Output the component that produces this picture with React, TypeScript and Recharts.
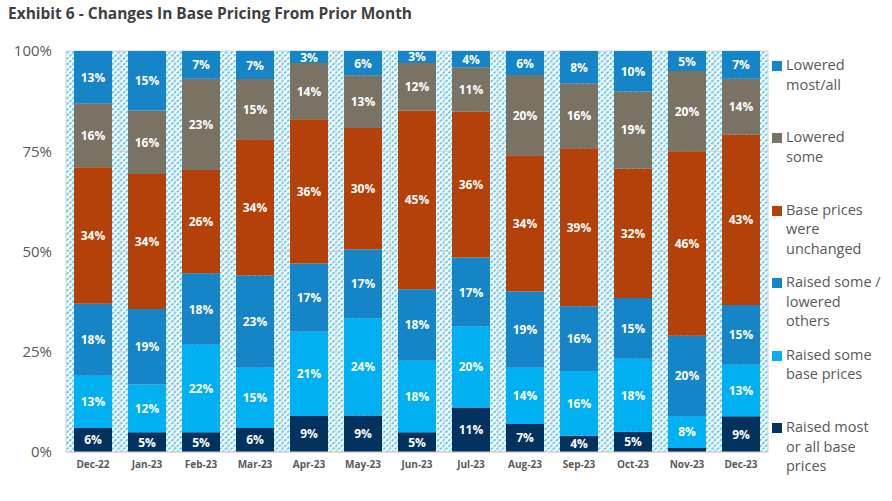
import React from "react";
import {
  BarChart,
  Bar,
  XAxis,
  YAxis,
  CartesianGrid,
  LabelList,
} from "recharts";

const categories = [
  "Dec-22", "Jan-23", "Feb-23", "Mar-23", "Apr-23", "May-23", "Jun-23",
  "Jul-23", "Aug-23", "Sep-23", "Oct-23", "Nov-23", "Dec-23",
];

// bottom to top
const raisedMost = [6, 5, 5, 6, 9, 9, 5, 11, 7, 4, 5, 1, 9];
const raisedSome = [13, 12, 22, 15, 21, 24, 18, 20, 14, 16, 18, 8, 13];
const raisedLowered = [18, 19, 18, 23, 17, 17, 18, 17, 19, 16, 15, 20, 15];
const unchanged = [34, 34, 26, 34, 36, 30, 45, 36, 34, 39, 32, 46, 43];
const loweredSome = [16, 16, 23, 15, 14, 13, 12, 11, 20, 16, 19, 20, 14];
const loweredMost = [13, 15, 7, 7, 3, 6, 3, 4, 6, 8, 10, 5, 7];

const yTicks = [0, 0.25, 0.5, 0.75, 1];

interface Series {
  key: string;
  values: number[];
  color: string;
  legend: string[];
}

const series: Series[] = [
  { key: "raisedMost", values: raisedMost, color: "#04325F", legend: ["Raised most", "or all base", "prices"] },
  { key: "raisedSome", values: raisedSome, color: "#00B0F0", legend: ["Raised some", "base prices"] },
  { key: "raisedLowered", values: raisedLowered, color: "#1585C7", legend: ["Raised some /", "lowered", "others"] },
  { key: "unchanged", values: unchanged, color: "#B5410A", legend: ["Base prices", "were", "unchanged"] },
  { key: "loweredSome", values: loweredSome, color: "#7A7263", legend: ["Lowered", "some"] },
  { key: "loweredMost", values: loweredMost, color: "#1585C7", legend: ["Lowered", "most/all"] },
];

const data = categories.map((name, i) => {
  const row: { [k: string]: string | number } = { name };
  series.forEach((s) => {
    row[s.key] = s.values[i];
  });
  return row;
});

const FONT = "'Open Sans', 'Noto Sans', sans-serif";

function makeLabel(values: number[]) {
  return (props: any) => {
    const { x, y, width, height, index } = props;
    const v = values[index];
    if (v == null || v < 2) return null;
    return (
      <text
        x={Number(x) + Number(width) / 2}
        y={Number(y) + Number(height) / 2}
        textAnchor="middle"
        dominantBaseline="central"
        fill="#fff"
        fontWeight={700}
        fontSize={12}
        fontFamily={FONT}
      >
        {v}%
      </text>
    );
  };
}

export default function App() {
  const legendItems = [...series].reverse();
  return (
    <div
      style={{
        position: "fixed",
        left: 0,
        top: 0,
        width: 892,
        height: 501,
        background: "#fff",
        fontFamily: FONT,
        overflow: "hidden",
      }}
    >
      <svg width={0} height={0} style={{ position: "absolute" }}>
        <defs>
          <pattern
            id="hatch"
            width={4}
            height={4}
            patternUnits="userSpaceOnUse"
            patternTransform="rotate(45)"
          >
            <rect width={4} height={4} fill="#fff" />
            <line x1={1} y1={0} x2={1} y2={4} stroke="#6ACDF3" strokeWidth={2} strokeDasharray="3 1" />
          </pattern>
        </defs>
      </svg>
      <BarChart
        width={892}
        height={501}
        data={data}
        stackOffset="expand"
        margin={{ top: 51, right: 124, left: 8, bottom: 0 }}
        barSize={38}
      >
        <CartesianGrid
          fill="url(#hatch)"
          fillOpacity={1}
          stroke="#D0D0D0"
          verticalCoordinatesGenerator={({ offset }: any) =>
            categories.map((_, i) => offset.left + (i * offset.width) / categories.length).concat([offset.left + offset.width])
          }
        />
        <XAxis
          dataKey="name"
          height={49}
          tickLine={false}
          tickSize={0}
          tickMargin={9}
          axisLine={{ stroke: "#D0D0D0" }}
          interval={0}
          tick={{ fill: "#595959", fontSize: 10, fontWeight: 700, fontFamily: FONT }}
        />
        <YAxis
          width={58}
          domain={[0, 1]}
          ticks={yTicks}
          tickFormatter={(v: number) => `${Math.round(v * 100)}%`}
          axisLine={false}
          tickLine={false}
          tickSize={0}
          tickMargin={14}
          tick={{ fill: "#595959", fontSize: 15, fontFamily: FONT }}
        />
        {series.map((s) => (
          <Bar
            key={s.key}
            dataKey={s.key}
            stackId="a"
            fill={s.color}
            isAnimationActive={false}
          >
            <LabelList dataKey={s.key} content={makeLabel(s.values)} />
          </Bar>
        ))}
      </BarChart>
      <div
        style={{
          position: "absolute",
          left: 8,
          top: 2,
          fontSize: 15.5,
          fontWeight: 700,
          color: "#404040",
          whiteSpace: "nowrap",
        }}
      >
        Exhibit 6 - Changes In Base Pricing From Prior Month
      </div>
      {legendItems.map((s, i) => (
        <div
          key={s.key}
          style={{
            position: "absolute",
            left: 772,
            top: 55 + i * 72.4,
            display: "flex",
            alignItems: "flex-start",
          }}
        >
          <div
            style={{
              width: 10,
              height: 10,
              background: s.color,
              marginTop: 6,
              marginRight: 4,
            }}
          />
          <div style={{ fontSize: 14.5, lineHeight: "19.5px", color: "#595959", whiteSpace: "nowrap" }}>
            {s.legend.map((l) => (
              <div key={l}>{l}</div>
            ))}
          </div>
        </div>
      ))}
    </div>
  );
}
